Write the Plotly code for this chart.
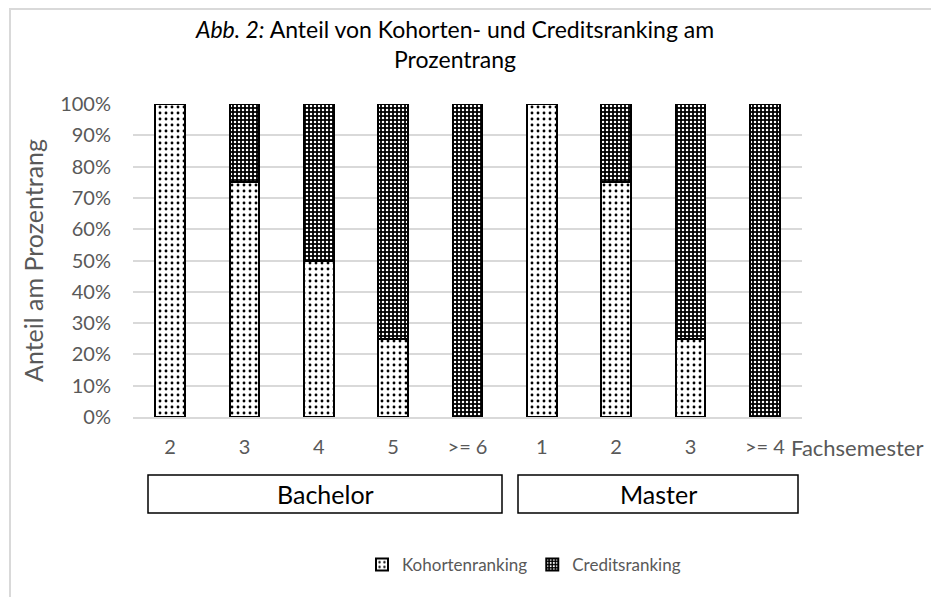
import plotly.graph_objects as go

categories = ["2", "3", "4", "5", ">= 6", "1", "2", "3", ">= 4"]
groups = ["Bachelor", "Master"]
group_sizes = [5, 4]
kohorten = [1.00, 0.75, 0.50, 0.25, 0.00, 1.00, 0.75, 0.25, 0.00]
credits = [0.00, 0.25, 0.50, 0.75, 1.00, 0.00, 0.25, 0.75, 1.00]
y_ticks = [0, 0.1, 0.2, 0.3, 0.4, 0.5, 0.6, 0.7, 0.8, 0.9, 1.0]

FONT = "Lato"
GREY = "#595959"

# plot area in pixels
L, R, T, B = 133, 802, 104, 417
W, H = 931, 597

def px(x):
    return (x - L) / (R - L)

def py(y):
    return (B - y) / (B - T)

xs = list(range(len(categories)))

fig = go.Figure()
fig.add_trace(go.Bar(
    x=xs, y=kohorten, name="Kohortenranking",
    marker=dict(color="white", line=dict(color="black", width=2),
                pattern=dict(shape=".", fgcolor="black", bgcolor="white",
                             size=6, solidity=0.18, fillmode="replace")),
))
fig.add_trace(go.Bar(
    x=xs, y=credits, name="Creditsranking",
    marker=dict(color="black", line=dict(color="black", width=2),
                pattern=dict(shape=".", fgcolor="white", bgcolor="black",
                             size=4, solidity=0.3, fillmode="replace")),
))

shapes = []
annotations = []
# group boxes
box_px = [(148, 502), (518, 798)]
for (x0, x1), g in zip(box_px, groups):
    shapes.append(dict(type="rect", xref="paper", yref="paper",
                       x0=px(x0), x1=px(x1), y0=py(513), y1=py(475),
                       line=dict(color="black", width=1.5), fillcolor="rgba(0,0,0,0)"))
    annotations.append(dict(xref="paper", yref="paper", x=px((x0 + x1) / 2), y=py(494),
                            text=g, showarrow=False,
                            font=dict(family=FONT, size=25, color="black"),
                            xanchor="center", yanchor="middle"))
annotations.append(dict(xref="paper", yref="paper", x=px(789), y=py(447),
                        text="Fachsemester", showarrow=False,
                        font=dict(family=FONT, size=22, color=GREY),
                        xanchor="left", yanchor="middle"))
# outer chart border
shapes.append(dict(type="rect", xref="paper", yref="paper",
                   x0=px(10), x1=px(960), y0=py(640), y1=py(9),
                   line=dict(color="#d9d9d9", width=2), fillcolor="rgba(0,0,0,0)", layer="below"))

fig.update_layout(
    width=W, height=H,
    margin=dict(l=L, r=W - R, t=T, b=H - B, pad=0),
    barmode="stack", bargap=0.6,
    paper_bgcolor="white", plot_bgcolor="white",
    font=dict(family=FONT, color=GREY),
    title=dict(text="<i>Abb. 2:</i> Anteil von Kohorten- und Creditsranking am<br>Prozentrang",
               x=455 / W, xanchor="center", y=1 - 38 / H, yanchor="middle",
               font=dict(family=FONT, size=23, color="black")),
    xaxis=dict(tickmode="array", tickvals=xs, ticktext=categories,
               range=[-0.5, len(categories) - 0.5],
               showgrid=False, showline=True, linecolor="#d9d9d9", linewidth=1.5,
               ticks="", tickfont=dict(family=FONT, size=20, color=GREY), ticklabelstandoff=11),
    yaxis=dict(range=[0, 1], tickvals=y_ticks, tickformat=".0%",
               showgrid=True, gridcolor="#d9d9d9", gridwidth=1.5,
               zeroline=False, ticks="", ticklabelstandoff=21,
               tickfont=dict(family=FONT, size=20, color=GREY),
               title=dict(text="Anteil am Prozentrang", standoff=9,
                          font=dict(family=FONT, size=25, color=GREY))),
    legend=dict(orientation="h", x=px(362), xanchor="left", y=py(565), yanchor="middle",
                font=dict(family=FONT, size=17, color=GREY), traceorder="normal",
                itemwidth=30, bgcolor="rgba(0,0,0,0)"),
    shapes=shapes, annotations=annotations,
)

fig.write_html("out.html", config={"displayModeBar": False},
               post_script="document.body.style.margin='0';")
